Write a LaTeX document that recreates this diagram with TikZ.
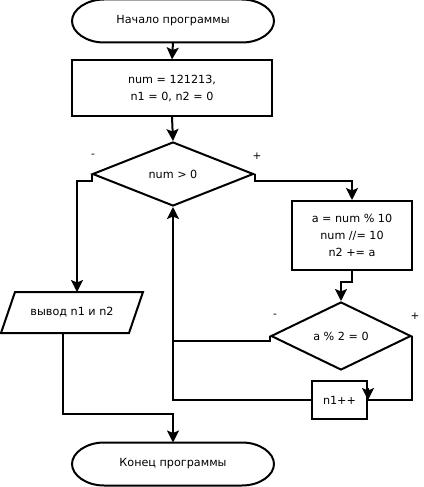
\documentclass[tikz,border=0pt]{standalone}
\usepackage{fontspec}
\setmainfont{DejaVu Sans}
\usetikzlibrary{arrows.meta,calc,shapes.geometric}
\begin{document}
\begin{tikzpicture}[x=1pt,y=-1pt,line width=2pt,
  every node/.style={font=\fontsize{11.2}{17}\selectfont,align=center,inner sep=0pt},
  term/.style={minimum width=200pt,minimum height=41pt},
  procbox/.style={draw,minimum width=#1},
  decision/.style={draw,diamond,minimum width=#1},
  iobox/.style={minimum width=126pt,minimum height=39pt},
  flow/.style={-{Stealth[length=12pt,width=12pt,inset=2.5pt]}},
  sign/.style={font=\fontsize{10.5}{12}\selectfont}]
\useasboundingbox (0,0) rectangle (423,487);

% terminators: text nodes with a stadium outline (half-ellipse ends) drawn around them
\node[term] (start) at (173,21) {Начало программы};
\node[term] (end) at (173,464) {Конец программы};
\foreach \t in {start,end}{
  \draw ($(\t.north west)+(32,0)$) -- ($(\t.north east)+(-32,0)$)
    .. controls ($(\t.north east)+(-14.3,0)$) and ($(\t.east)+(0,-11.3)$) .. (\t.east)
    .. controls ($(\t.east)+(0,11.3)$) and ($(\t.south east)+(-14.3,0)$) .. ($(\t.south east)+(-32,0)$)
    -- ($(\t.south west)+(32,0)$)
    .. controls ($(\t.south west)+(14.3,0)$) and ($(\t.west)+(0,11.3)$) .. (\t.west)
    .. controls ($(\t.west)+(0,-11.3)$) and ($(\t.north west)+(14.3,0)$) .. ($(\t.north west)+(32,0)$)
    -- cycle;
}

% process steps
\node[procbox=200pt,minimum height=55pt] (init) at (172,88) {num = 121213,\\ n1 = 0, n2 = 0};
\node[procbox=120pt,minimum height=69pt] (body) at (352,235.5) {a = num \% 10\\ num //= 10\\ n2 += a};
\node[procbox=55pt,minimum height=38pt] (inc) at (339.5,400) {n1++};

% decisions
\node[decision=161pt,minimum height=64pt] (loop) at (173,174) {num > 0};
\node[decision=140pt,minimum height=68pt] (even) at (341,336) {a \% 2 = 0};

% output (parallelogram)
\node[iobox] (out) at (72,312.5) {вывод n1 и n2};
\draw ([xshift=7pt]out.north west) -- ([xshift=7pt]out.north east)
  -- ([xshift=-7pt]out.south east) -- ([xshift=-7pt]out.south west) -- cycle;

% branch signs
\node[sign] at (93,156) {-};
\node[sign] at (257,156) {+};
\node[sign] at (275,316) {-};
\node[sign] at (415,316) {+};

% connectors
\draw[flow] (start.south) -- (init.north);
\draw[flow] (init.south) -- (loop.north);
\draw[flow] (loop.west) -- ++(0,7) -| ([xshift=5pt]out.north);
\draw[flow] (loop.east) -- ++(0,7) -| (body.north);
\draw[flow] (body.south) -- ++(0,11) -| (even.north);
\draw (even.west) -- ++(0,5) coordinate (m) -- (m -| loop.south);
\draw (even.east) |- (inc.east);
\draw[flow] ([yshift=12pt]inc.east) -- (inc.east);
\draw[flow] (inc.west) -| (loop.south);
\draw[flow] ([xshift=-9pt]out.south) -- ++(0,81) -| (end.north);
\end{tikzpicture}
\end{document}
